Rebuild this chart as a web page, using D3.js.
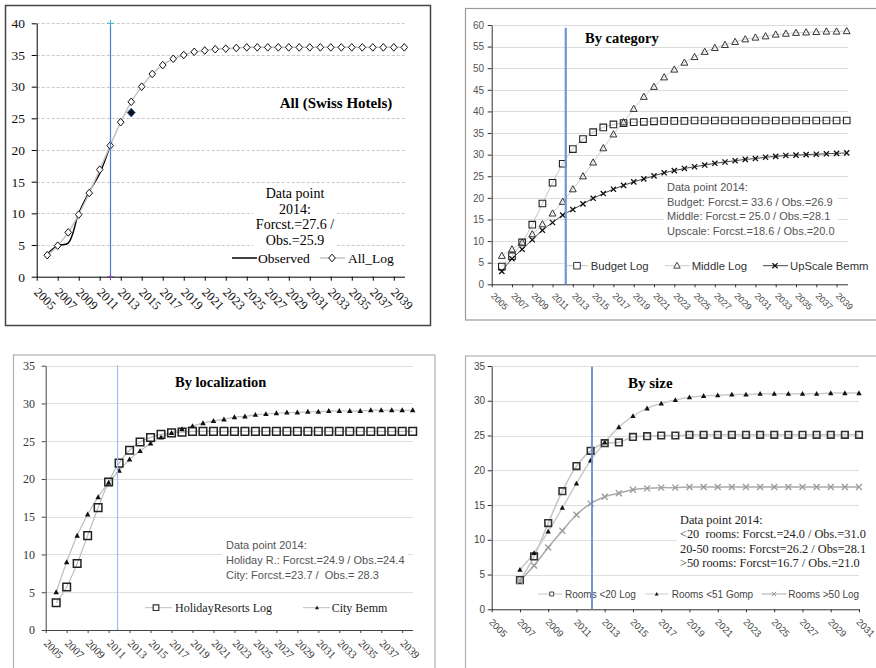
<!DOCTYPE html>
<html>
<head>
<meta charset="utf-8">
<script src="https://cdn.jsdelivr.net/npm/d3@7"></script>
<style>
  body { margin: 0; background: #fff; }
  svg { display: block; }
  text { white-space: pre; }
</style>
</head>
<body>
<svg id="chart" width="876" height="668"></svg>
<script>
// ---------- data ----------
const yearsMain = [2006, 2007, 2008, 2009, 2010, 2011, 2012, 2013, 2014, 2015,
  2016, 2017, 2018, 2019, 2020, 2021, 2022, 2023, 2024, 2025,
  2026, 2027, 2028, 2029, 2030, 2031, 2032, 2033, 2034, 2035,
  2036, 2037, 2038, 2039, 2040];
const yearsSize = [2007, 2008, 2009, 2010, 2011, 2012, 2013, 2014, 2015, 2016,
  2017, 2018, 2019, 2020, 2021, 2022, 2023, 2024, 2025, 2026,
  2027, 2028, 2029, 2030, 2031];
const tickLabelsMain = ["2005", "2007", "2009", "2011", "2013", "2015", "2017", "2019", "2021",
  "2023", "2025", "2027", "2029", "2031", "2033", "2035", "2037", "2039"];
const tickLabelsSize = ["2005", "2007", "2009", "2011", "2013", "2015", "2017", "2019", "2021",
  "2023", "2025", "2027", "2029", "2031"];

// All (Swiss Hotels)
const allLog = [3.4, 4.9, 7.0, 9.8, 13.2, 16.9, 20.7, 24.4, 27.6, 30.0,
  32.0, 33.4, 34.4, 35.0, 35.5, 35.7, 35.9, 36.0, 36.1, 36.2,
  36.2, 36.2, 36.2, 36.2, 36.2, 36.2, 36.2, 36.2, 36.2, 36.2,
  36.2, 36.2, 36.2, 36.2, 36.2];
const observedYears = [2006, 2007, 2008, 2009, 2010, 2011, 2012];
const observed = [3.6, 4.9, 5.3, 10.0, 13.4, 16.3, 20.7];
const observedPointYear = 2014;
const observedPoint = 25.9;

// By category
const budgetLog = [4.1, 6.5, 9.7, 13.8, 18.7, 23.5, 27.9, 31.3, 33.6, 35.2,
  36.3, 37.0, 37.3, 37.5, 37.6, 37.7, 37.8, 37.8, 37.8, 37.9,
  37.9, 37.9, 37.9, 37.9, 37.9, 37.9, 37.9, 37.9, 37.9, 37.9,
  37.9, 37.9, 37.9, 37.9, 37.9];
const middleLog = [6.6, 8.1, 9.7, 11.6, 13.9, 16.4, 19.1, 22.0, 25.0, 28.2,
  31.5, 34.7, 37.5, 40.6, 43.4, 45.7, 47.9, 49.7, 51.3, 52.6,
  53.8, 54.7, 55.4, 56.1, 56.7, 57.1, 57.4, 57.8, 58.0, 58.2,
  58.3, 58.4, 58.5, 58.5, 58.6];
const upscaleBemm = [3.0, 5.9, 8.1, 10.3, 12.5, 14.3, 16.0, 17.3, 18.6, 19.9,
  21.0, 22.0, 22.9, 23.7, 24.4, 25.1, 25.8, 26.3, 26.8, 27.2,
  27.6, 28.0, 28.3, 28.6, 28.9, 29.1, 29.4, 29.6, 29.8, 29.9,
  30.0, 30.1, 30.2, 30.3, 30.4];

// By localization
const holidayLog = [3.6, 5.7, 8.8, 12.5, 16.2, 19.6, 22.1, 23.8, 24.9, 25.5,
  25.9, 26.1, 26.2, 26.3, 26.3, 26.3, 26.3, 26.3, 26.3, 26.3,
  26.3, 26.3, 26.3, 26.3, 26.3, 26.3, 26.3, 26.3, 26.3, 26.3,
  26.3, 26.3, 26.3, 26.3, 26.3];
const cityBemm = [5.0, 9.0, 12.5, 15.3, 17.6, 19.5, 21.1, 22.6, 23.7, 24.7,
  25.5, 26.1, 26.6, 27.0, 27.4, 27.7, 27.9, 28.2, 28.3, 28.5,
  28.6, 28.7, 28.8, 28.8, 28.9, 28.9, 29.0, 29.0, 29.0, 29.0,
  29.1, 29.1, 29.1, 29.1, 29.1];

// By size
const roomsLt20Log = [4.2, 7.6, 12.4, 17.0, 20.6, 22.8, 23.9, 24.0, 24.8, 24.9,
  25.0, 25.0, 25.1, 25.1, 25.1, 25.1, 25.1, 25.1, 25.1, 25.1,
  25.1, 25.1, 25.1, 25.1, 25.1];
const roomsLt51Gomp = [5.7, 8.1, 11.2, 14.6, 18.1, 21.4, 24.0, 26.2, 27.8, 28.9,
  29.6, 30.1, 30.5, 30.7, 30.8, 30.9, 30.9, 31.0, 31.0, 31.0,
  31.0, 31.0, 31.1, 31.1, 31.1];
const roomsGt50Log = [4.1, 6.3, 8.9, 11.3, 13.6, 15.2, 16.2, 16.7, 17.2, 17.4,
  17.5, 17.5, 17.6, 17.6, 17.6, 17.6, 17.6, 17.6, 17.6, 17.6,
  17.6, 17.6, 17.6, 17.6, 17.6];

const SERIF = "'Liberation Serif', 'Times New Roman', serif";
const SANS = "'Liberation Sans', Arial, sans-serif";

// ---------- marker paths ----------
const shape = {
  diamond: (w, h) => `M0,${-h}L${w},0L0,${h}L${-w},0Z`,
  square: s => `M${-s},${-s}H${s}V${s}H${-s}Z`,
  triangle: s => `M0,${-s}L${s * 0.95},${s * 0.72}L${-s * 0.95},${s * 0.72}Z`,
  times: s => `M${-s},${-s}L${s},${s}M${-s},${s}L${s},${-s}`,
  plus: s => `M${-s},0H${s}M0,${-s}V${s}`
};

const svg = d3.select("#chart");
svg.append("rect").attr("width", 876).attr("height", 668).attr("fill", "#fff");

// ---------- shared panel scaffolding ----------
function setupPanel(p) {
  const g = svg.append("g");
  const x = d3.scaleLinear().domain(p.xDomain).range(p.xRange);
  const y = d3.scaleLinear().domain(p.yDomain).range(p.yRange);

  g.append("rect")
    .attr("x", p.frame[0]).attr("y", p.frame[1])
    .attr("width", p.frame[2]).attr("height", p.frame[3])
    .attr("fill", "#fff").attr("stroke", p.frameColor).attr("stroke-width", p.frameWidth);

  const yTicks = d3.range(p.yDomain[0], p.yDomain[1] + 1, 5);
  g.append("g").selectAll("line").data(yTicks.filter(v => v > 0)).join("line")
    .attr("x1", p.xRange[0]).attr("x2", p.gridEnd)
    .attr("y1", d => Math.round(y(d)) + 0.5).attr("y2", d => Math.round(y(d)) + 0.5)
    .attr("stroke", p.gridColor).attr("stroke-width", 1)
    .attr("stroke-dasharray", p.gridDash || null);

  const yAxis = d3.axisLeft(y).tickValues(yTicks).tickSize(p.yTickSize)
    .tickSizeOuter(0).tickPadding(p.yPad).tickFormat(d3.format("d"));
  const ya = g.append("g").attr("transform", `translate(${p.xRange[0]},0)`).call(yAxis)
    .attr("font-family", p.yFont).attr("font-size", p.yFontSize);
  ya.selectAll(".domain, line").attr("stroke", p.axisColor);
  ya.selectAll("text").attr("fill", p.yFill);

  const tickVals = p.tickLabels.map(Number);
  const xAxis = d3.axisBottom(x).tickValues(tickVals).tickSize(p.xTickSize)
    .tickSizeOuter(0).tickFormat((d, i) => p.tickLabels[i]);
  const xa = g.append("g").attr("transform", `translate(0,${p.yRange[0]})`).call(xAxis)
    .attr("font-family", p.xFont).attr("font-size", p.xFontSize);
  xa.select(".domain").attr("d", `M${p.xRange[0]},0.5H${p.axisEnd}`);
  xa.selectAll(".domain, line").attr("stroke", p.axisColor);
  xa.selectAll("text")
    .attr("fill", p.xFill).attr("x", 0).attr("y", 0).attr("dy", "0.35em")
    .attr("text-anchor", "middle")
    .attr("transform", `translate(${p.lblDx},${p.lblDy}) rotate(45)`);

  return { g, x, y };
}

function drawLine(g, x, y, years, vals, color, width) {
  const line = d3.line().x((d, i) => x(years[i])).y(d => y(d)).curve(d3.curveCatmullRom);
  g.append("path").datum(vals).attr("d", line)
    .attr("fill", "none").attr("stroke", color).attr("stroke-width", width);
}

function drawMarkers(g, x, y, years, vals, path, style) {
  g.append("g").selectAll("path").data(vals).join("path")
    .attr("transform", (d, i) => `translate(${x(years[i])},${y(d)})`)
    .attr("d", path)
    .attr("fill", style.fill || "none")
    .attr("stroke", style.stroke || "none")
    .attr("stroke-width", style.sw || 1);
}

function textBlock(g, lines, o) {
  if (o.box) {
    g.append("rect").attr("x", o.box[0]).attr("y", o.box[1])
      .attr("width", o.box[2]).attr("height", o.box[3]).attr("fill", "#fff");
  }
  g.append("g").selectAll("text").data(lines).join("text")
    .attr("x", o.x).attr("y", (d, i) => o.y + i * o.dy)
    .attr("text-anchor", o.anchor || "start")
    .attr("font-family", o.font).attr("font-size", o.size)
    .attr("font-weight", o.weight || "normal")
    .attr("fill", o.fill || "#000")
    .text(d => d);
}

function legendItem(g, item, o) {
  const yy = o.y;
  g.append("line").attr("x1", item.x1).attr("x2", item.x2).attr("y1", yy).attr("y2", yy)
    .attr("stroke", item.lineColor).attr("stroke-width", item.lineWidth || 1);
  if (item.marker) {
    g.append("path").attr("transform", `translate(${item.mx},${yy})`).attr("d", item.marker)
      .attr("fill", item.fill || "#fff").attr("stroke", item.stroke || "none")
      .attr("stroke-width", item.sw || 1);
  }
  g.append("text").attr("x", item.tx).attr("y", yy).attr("dy", "0.35em")
    .attr("font-family", o.font).attr("font-size", o.size).attr("fill", o.fill || "#000")
    .text(item.label);
}

// ---------- Panel 1: All (Swiss Hotels) ----------
{
  const { g, x, y } = setupPanel({
    xDomain: [2005, 2040], xRange: [36.7, 404.3], yDomain: [0, 40], yRange: [276.7, 23.3],
    frame: [5.5, 5.5, 425, 320], frameColor: "#444", frameWidth: 1.5,
    gridEnd: 405, gridColor: "#c8c8c8", gridDash: "3,2",
    axisColor: "#000", yFont: SERIF, yFontSize: 13.5, yFill: "#111", yTickSize: 5, yPad: 6.7,
    xFont: SERIF, xFontSize: 12.5, xFill: "#111", xTickSize: 4, lblDx: 8, lblDy: 22,
    tickLabels: tickLabelsMain, axisEnd: 405
  });

  textBlock(g, ["Data point", "2014:", "Forcst.=27.6 /", "Obs.=25.9"],
    { x: 295, y: 198, dy: 15.6, anchor: "middle", font: SERIF, size: 14, box: [253, 184, 84, 66] });

  drawLine(g, x, y, observedYears, observed, "#000", 1.4);
  drawLine(g, x, y, yearsMain, allLog, "#c4c4c4", 1.5);
  drawMarkers(g, x, y, yearsMain, allLog, shape.diamond(3.3, 3.8), { fill: "#fff", stroke: "#111", sw: 1 });

  g.append("path")
    .attr("transform", `translate(${x(observedPointYear)},${y(observedPoint)})`)
    .attr("d", shape.diamond(4, 4.4)).attr("fill", "#111").attr("stroke", "#2f63b0").attr("stroke-width", 1);

  // forecast start marker
  const cx = Math.round(x(2012)) + 0.5;
  g.append("line").attr("x1", cx).attr("x2", cx).attr("y1", y(40)).attr("y2", y(0))
    .attr("stroke", "#4a7fc4").attr("stroke-width", 1.2);
  g.append("path").attr("transform", `translate(${cx},${y(40)})`).attr("d", shape.plus(3.5))
    .attr("stroke", "#3fb0d0").attr("stroke-width", 1);
  g.append("path").attr("transform", `translate(${cx},${y(0)})`).attr("d", shape.plus(3.5))
    .attr("stroke", "#7a4fa8").attr("stroke-width", 1);

  g.append("text").attr("x", 336).attr("y", 108).attr("text-anchor", "middle")
    .attr("font-family", SERIF).attr("font-size", 15).attr("font-weight", "bold")
    .text("All (Swiss Hotels)");

  const lo = { y: 258, font: SERIF, size: 13.5 };
  legendItem(g, { x1: 232, x2: 257, lineColor: "#000", lineWidth: 1.5, tx: 258, label: "Observed" }, lo);
  legendItem(g, { x1: 320, x2: 345, lineColor: "#c4c4c4", lineWidth: 1.5, mx: 332,
    marker: shape.diamond(3.3, 3.8), fill: "#fff", stroke: "#111", tx: 348, label: "All_Log" }, lo);
}

// ---------- Panel 2: By category ----------
{
  const { g, x, y } = setupPanel({
    xDomain: [2005, 2040], xRange: [491.7, 846.7], yDomain: [0, 60], yRange: [284.3, 25],
    frame: [465.5, 8.5, 420, 311.5], frameColor: "#9a9a9a", frameWidth: 1.2,
    gridEnd: 848, gridColor: "#dcdcdc",
    axisColor: "#333", yFont: SANS, yFontSize: 10, yFill: "#555", yTickSize: 4, yPad: 3.7,
    xFont: SANS, xFontSize: 9, xFill: "#444", xTickSize: 3, lblDx: 7.5, lblDy: 17,
    tickLabels: tickLabelsMain, axisEnd: 848
  });

  textBlock(g, ["Data point 2014:", "Budget: Forcst.= 33.6 / Obs.=26.9",
    "Middle: Forcst.= 25.0 / Obs.=28.1", "Upscale: Forcst.=18.6 / Obs.=20.0"],
    { x: 667, y: 190.7, dy: 14.8, font: SANS, size: 11, fill: "#555", box: [664, 180, 174, 59] });

  drawLine(g, x, y, yearsMain, budgetLog, "#c4c4c4", 1);
  drawLine(g, x, y, yearsMain, middleLog, "#cccccc", 1);
  drawLine(g, x, y, yearsMain, upscaleBemm, "#444", 1);
  drawMarkers(g, x, y, yearsMain, budgetLog, shape.square(3.3), { stroke: "#222", sw: 1.1 });
  drawMarkers(g, x, y, yearsMain, middleLog, shape.triangle(3.6), { stroke: "#333", sw: 1 });
  drawMarkers(g, x, y, yearsMain, upscaleBemm, shape.times(2.6), { stroke: "#111", sw: 1.3 });

  g.append("rect").attr("x", 565).attr("y", 256).attr("width", 311).attr("height", 19).attr("fill", "#fff");
  const lo = { y: 265.7, font: SANS, size: 11.3, fill: "#333" };
  legendItem(g, { x1: 567, x2: 588, lineColor: "#c4c4c4", mx: 577, marker: shape.square(3.3),
    fill: "#fff", stroke: "#333", tx: 590.7, label: "Budget Log" }, lo);
  legendItem(g, { x1: 665, x2: 690, lineColor: "#cccccc", mx: 677, marker: shape.triangle(3.4),
    fill: "#fff", stroke: "#444", tx: 691.7, label: "Middle Log" }, lo);
  legendItem(g, { x1: 763, x2: 788, lineColor: "#444", mx: 775, marker: shape.times(2.6),
    fill: "none", stroke: "#111", sw: 1.3, tx: 790, label: "UpScale Bemm" }, lo);

  const cx = x(2012.3);
  g.append("line").attr("x1", cx).attr("x2", cx).attr("y1", 27.7).attr("y2", y(0))
    .attr("stroke", "#6b98d4").attr("stroke-width", 2.2);

  g.append("text").attr("x", 585).attr("y", 43)
    .attr("font-family", SERIF).attr("font-size", 14.5).attr("font-weight", "bold")
    .text("By category");
}

// ---------- Panel 3: By localization ----------
{
  const { g, x, y } = setupPanel({
    xDomain: [2005, 2040], xRange: [45.7, 412.7], yDomain: [0, 35], yRange: [630, 365.7],
    frame: [13.5, 355, 421.5, 330], frameColor: "#b0b0b0", frameWidth: 1.2,
    gridEnd: 413, gridColor: "#dedede",
    axisColor: "#444", yFont: SERIF, yFontSize: 12, yFill: "#333", yTickSize: 4, yPad: 6.7,
    xFont: SERIF, xFontSize: 11, xFill: "#333", xTickSize: 3, lblDx: 7.5, lblDy: 19,
    tickLabels: tickLabelsMain, axisEnd: 413
  });

  textBlock(g, ["Data point 2014:", "Holiday R.: Forcst.=24.9 / Obs.=24.4", "City: Forcst.=23.7 /  Obs.= 28.3"],
    { x: 226, y: 549, dy: 15, font: SANS, size: 11, fill: "#555", box: [222, 536, 186, 47] });

  drawLine(g, x, y, yearsMain, holidayLog, "#bdbdbd", 1.2);
  drawLine(g, x, y, yearsMain, cityBemm, "#bdbdbd", 1.2);
  drawMarkers(g, x, y, yearsMain, holidayLog, shape.square(3.8), { stroke: "#222", sw: 1.5 });
  drawMarkers(g, x, y, yearsMain, cityBemm, shape.triangle(2.9), { fill: "#111" });

  const cx = x(2011.85);
  g.append("line").attr("x1", cx).attr("x2", cx).attr("y1", 365).attr("y2", y(0))
    .attr("stroke", "#9cc0e8").attr("stroke-width", 1.2);

  g.append("text").attr("x", 220.7).attr("y", 387).attr("text-anchor", "middle")
    .attr("font-family", SERIF).attr("font-size", 14.5).attr("font-weight", "bold")
    .text("By localization");

  const lo = { y: 607.7, font: SERIF, size: 12, fill: "#222" };
  legendItem(g, { x1: 145, x2: 172, lineColor: "#bdbdbd", mx: 156, marker: shape.square(2.8),
    fill: "#fff", stroke: "#333", sw: 1.2, tx: 175, label: "HolidayResorts Log" }, lo);
  legendItem(g, { x1: 303, x2: 330, lineColor: "#bdbdbd", mx: 317, marker: shape.triangle(2.2),
    fill: "#222", tx: 331.7, label: "City Bemm" }, lo);
}

// ---------- Panel 4: By size ----------
{
  const { g, x, y } = setupPanel({
    xDomain: [2005, 2031], xRange: [491.7, 859], yDomain: [0, 35], yRange: [609.3, 366],
    frame: [465.5, 356, 420, 330], frameColor: "#b0b0b0", frameWidth: 1.2,
    gridEnd: 859, gridColor: "#dedede",
    axisColor: "#333", yFont: SANS, yFontSize: 10, yFill: "#444", yTickSize: 4, yPad: 2.7,
    xFont: SANS, xFontSize: 9.5, xFill: "#444", xTickSize: 3, lblDx: 6, lblDy: 18.5,
    tickLabels: tickLabelsSize, axisEnd: 860
  });

  textBlock(g, ["Data point 2014:", "<20  rooms: Forcst.=24.0 / Obs.=31.0",
    "20-50 rooms: Forcst=26.2 / Obs=28.1", ">50 rooms: Forcst=16.7 / Obs.=21.0"],
    { x: 680, y: 524, dy: 14.3, font: SERIF, size: 12.3, fill: "#222", box: [677, 511, 190, 59] });

  drawLine(g, x, y, yearsSize, roomsLt20Log, "#c4c4c4", 1.5);
  drawLine(g, x, y, yearsSize, roomsLt51Gomp, "#cccccc", 1.5);
  drawLine(g, x, y, yearsSize, roomsGt50Log, "#ababab", 1.5);
  drawMarkers(g, x, y, yearsSize, roomsLt20Log, shape.square(3.3), { stroke: "#333", sw: 1.6 });
  drawMarkers(g, x, y, yearsSize, roomsLt51Gomp, shape.triangle(2.8), { fill: "#111" });
  drawMarkers(g, x, y, yearsSize, roomsGt50Log, shape.times(3), { stroke: "#9a9a9a", sw: 1.3 });

  const lo = { y: 594, font: SANS, size: 10, fill: "#444" };
  legendItem(g, { x1: 538, x2: 562, lineColor: "#c4c4c4", mx: 551.7, marker: shape.square(2),
    fill: "#fff", stroke: "#444", tx: 565, label: "Rooms <20 Log" }, lo);
  legendItem(g, { x1: 645, x2: 668, lineColor: "#cccccc", mx: 656.7, marker: shape.triangle(2),
    fill: "#111", tx: 671.7, label: "Rooms <51 Gomp" }, lo);
  legendItem(g, { x1: 761.7, x2: 786.7, lineColor: "#ababab", mx: 774, marker: shape.times(2.2),
    fill: "none", stroke: "#9a9a9a", tx: 788.3, label: "Rooms >50 Log" }, lo);

  const cx = x(2012.1);
  g.append("line").attr("x1", cx).attr("x2", cx).attr("y1", 366.7).attr("y2", y(0))
    .attr("stroke", "#5b8fd6").attr("stroke-width", 1.8);

  g.append("text").attr("x", 628).attr("y", 388)
    .attr("font-family", SERIF).attr("font-size", 15).attr("font-weight", "bold")
    .text("By size");
}
</script>
</body>
</html>
